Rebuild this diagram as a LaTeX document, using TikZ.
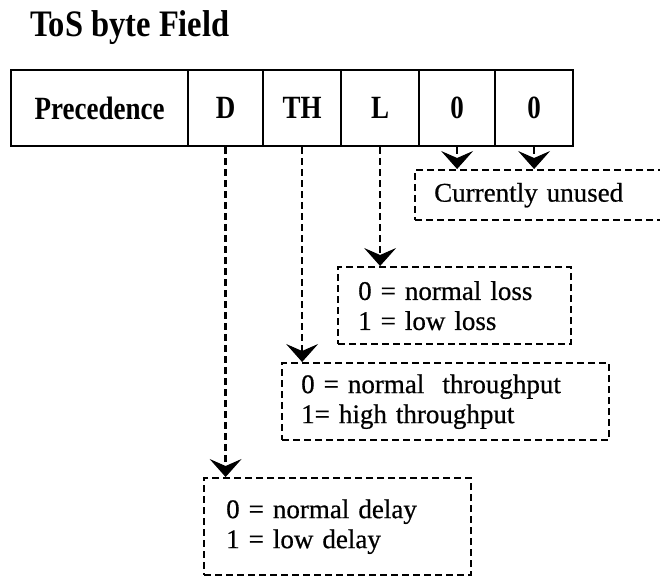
\documentclass[tikz,border=0pt]{standalone}
\usepackage{fontspec}
\usepackage{graphicx}
\setmainfont{Liberation Serif}
\newfontfamily\notefont{Liberation Serif}[FakeBold=0.6]
\usetikzlibrary{arrows.meta}
% tall bold lettering used in the header and the field cells
\newcommand{\tallbf}[1]{\scalebox{1}[1.2]{\bfseries #1}}
\begin{document}
\begin{tikzpicture}[x=1bp,y=-1bp,
  cell/.style={draw, line width=2.2bp, minimum height=76bp, inner sep=0pt,
    anchor=north west, font=\fontsize{27bp}{30bp}\selectfont},
  notebox/.style={draw, dash pattern=on 7bp off 4bp, line width=2.4bp,
    anchor=north west, align=left, inner ysep=0pt,
    font=\notefont\fontsize{27bp}{30bp}\selectfont},
  link/.style={dash pattern=on 7bp off 4bp, line width=2.4bp,
    -{Stealth[length=18bp,width=32bp,inset=7bp,line width=1bp]}}]
\useasboundingbox (0,0) rectangle (660,576);
\clip (0,0) rectangle (660,576);

% header
\node[anchor=base west, inner sep=0pt, font=\fontsize{32.5bp}{36bp}\selectfont]
  (title) at (30,37) {\scalebox{1}[1.15]{\bfseries ToS byte Field}};

% the byte, field by field
\node[cell, minimum width=177bp] (prec) at (10,69)  {\tallbf{Precedence}};
\node[cell, minimum width=75bp]  (cD)   at (187,69) {\tallbf{D}};
\node[cell, minimum width=78bp]  (cTH)  at (262,69) {\tallbf{TH}};
\node[cell, minimum width=78bp]  (cL)   at (340,69) {\tallbf{L}};
\node[cell, minimum width=76bp]  (cA)   at (418,69) {\tallbf{0}};
\node[cell, minimum width=78bp]  (cB)   at (494,69) {\tallbf{0}};

% meaning of each bit
\node[notebox, minimum width=320bp, minimum height=50bp, inner xsep=19bp, text width=282bp]
  (unused) at (414,169) {Currently unused};
\node[notebox, minimum width=233bp, minimum height=77bp, inner xsep=20bp, text width=193bp]
  (loss) at (337,266) {0 = normal loss\\1 = low loss};
\node[notebox, minimum width=327bp, minimum height=77bp, inner xsep=19bp, text width=289bp]
  (thr) at (281,362) {0 = normal~ throughput\\1= high throughput};
\node[notebox, minimum width=267bp, minimum height=97bp, inner xsep=22bp, text width=223bp]
  (delay) at (203,477) {0 = normal delay\\1 = low delay};

% connectors
\draw[link] (cA.south)  -- (unused.north -| cA.south);
\draw[link] (cB.south)  -- (unused.north -| cB.south);
\draw[link] (cL.south)  -- (loss.north -| cL.south);
\draw[link] (cTH.south) -- (thr.north -| cTH.south);
\draw[link] (cD.south)  -- (delay.north -| cD.south);
\end{tikzpicture}
\end{document}
